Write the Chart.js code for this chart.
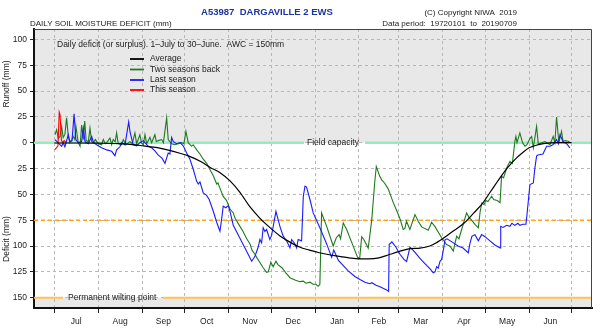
<!DOCTYPE html>
<html>
<head>
<meta charset="utf-8">
<script src="https://cdn.jsdelivr.net/npm/chart.js@4/dist/chart.umd.min.js"></script>
<style>
html,body{margin:0;padding:0;background:#fff;}
canvas{display:block;}
</style>
</head>
<body>
<canvas id="c" width="600" height="331"></canvas>
<script>
// ---------- DATA (day since 1 July, balance mm: + runoff / - deficit) ----------
const monthStarts = [0,31,62,92,123,153,184,215,243,274,304,335,365];
const monthLabels = ['Jul','Aug','Sep','Oct','Nov','Dec','Jan','Feb','Mar','Apr','May','Jun'];
const yTickValues = [-150,-125,-100,-75,-50,-25,0,25,50,75,100];
const seriesNames = ['Average','Two seasons back','Last season','This season'];

const average = [[0,-0.3],[15,-0.3],[31,-0.5],[46,-1],[62,-3],[75,-5.5],[88,-10],[95,-13],[103,-18],[110,-24],[117,-29],[124,-37],[131,-48],[138,-62],[145,-73],[152,-82],[159,-90],[166,-96],[173,-101],[180,-104],[187,-106.5],[194,-108.5],[201,-110],[208,-111.5],[215,-112.5],[222,-112.5],[229,-111.5],[236,-108.5],[243,-105.5],[251,-102.5],[258,-102],[265,-100],[270,-96.5],[274,-93],[281,-86],[289,-78],[296,-68],[302,-59],[308,-47],[314,-35],[320,-24],[326,-15],[331,-9],[335,-5],[340,-2.5],[345,-1],[355,0],[365,0]];

const twoSeasonsBack = [[0.5,7.7],[1.7,12.5],[2.8,4],[4,6],[5.2,15.8],[6.3,5],[7.5,8],[8.7,24],[9.9,6],[11,0],[12.2,2],[13.4,6],[14.5,3],[15.3,15.8],[16.9,0],[18.2,-3.5],[19.3,17],[20.5,3],[21.5,21],[22.5,2],[24,1],[25.2,14],[26.4,1],[27.5,0],[29,3],[30,1],[31,-1],[33.4,-2],[34.6,3],[36,-1],[37,0],[39.3,4.5],[40.5,-2],[41.6,3],[43,1],[44,9.4],[45.1,-1],[47.5,-2],[48.7,3],[50.6,-2],[53.4,1],[55,-1],[56.9,9.4],[58.1,-1],[60.4,7.7],[61.5,0],[62.8,-2],[64,7.7],[65.2,-1],[67.5,5],[68.7,0],[71,7.7],[72,1],[73.4,2],[75.8,3],[77,0],[79.3,24],[80.4,3],[82.8,-1],[85.1,-2],[87.5,-1],[89.9,0],[91.5,-1],[92.9,11],[94.5,0],[96.9,-3.5],[98,-2],[100.5,-7],[102.8,-11],[105.1,-16],[107.5,-20],[109.8,-26],[112.2,-32],[114.6,-40],[115.5,-39],[116.9,-44],[119.2,-52],[121.6,-56],[123.9,-64],[126.3,-68],[127.5,-73],[131,-81],[133.2,-86],[135.8,-93],[138.1,-98],[139.5,-104],[141.6,-108],[142.8,-111],[145.1,-116],[147.4,-121],[149.8,-125.5],[151,-125],[152.8,-115.5],[154.4,-120],[156.4,-114.7],[157.8,-118],[160.6,-121],[163.4,-126],[166.3,-130.7],[169.8,-133],[173.3,-134.5],[175.7,-134],[177.6,-136],[180.4,-135],[182.7,-137],[184.6,-137],[186.2,-139],[187.4,-137],[188.6,-68],[192.2,-81],[196.8,-100],[199,-92],[201,-89],[202,-93],[203.9,-77.6],[206.3,-84],[210,-97],[214,-111],[215.5,-112],[216.9,-91],[218.5,-94],[221.5,-102],[224,-75],[226,-40],[227.2,-23],[229.5,-32],[231,-36],[233,-39],[235.6,-44.7],[239.2,-58],[242.3,-68],[244,-74],[246.2,-84],[247.4,-83],[248.5,-76],[250.9,-84],[254.5,-69.6],[256.8,-76],[259.2,-81.5],[263.9,-84.7],[266.2,-77],[268.5,-81],[273.3,-92],[276.8,-98.6],[279.2,-100.2],[281.5,-105],[283.9,-90.5],[285.5,-93],[290.9,-68],[292.5,-72],[294.5,-75],[296.8,-79],[299.2,-82.4],[300.5,-66.4],[301.7,-58.3],[303.2,-60],[304.5,-56],[306,-57],[307.5,-54],[308.6,-51.9],[310,-55],[312.5,-56],[314.5,-58],[315.6,-32.6],[317,-34],[319.2,-24.5],[321.5,-18],[323.2,-20],[325,1.3],[325.7,6],[326.5,0],[327.3,4],[328.5,9.4],[330.4,0],[332.1,-3.5],[333.5,-2],[335.6,4],[336.8,6],[338,-5],[340.3,15.8],[341.5,-1],[343.9,0],[346.2,1],[349.7,-2],[352,6],[353.2,0],[354.4,24.8],[356,0],[357.9,11],[359,1],[360.3,2],[362.6,1.3],[363.8,0.3]];

const lastSeason = [[0.5,3],[2.6,0],[5.2,-3.5],[6.3,0],[7.5,-4],[9.9,7.7],[11,1],[12.5,2],[14,28],[15.2,3],[16.9,0],[19.3,1],[20.5,14],[21.7,1],[24,-1],[26.4,6],[27.5,1],[28.7,-1],[31,-3],[33.4,-5],[37,-7],[40.5,-8.4],[42.8,-12.6],[44,-7],[46.3,-4],[47.5,0],[49.9,-2],[52.5,20],[53.4,11],[54.6,4],[55.7,-2],[58.1,-3],[60.4,0],[62.8,2],[66.3,-3.5],[68.7,-5],[71,-8],[73.4,-12],[76,-15],[78.1,-20],[80.4,-10],[81.6,-11],[82.8,5],[84,1],[86.3,-1],[88.7,0],[91,-3],[93.4,-10],[95.7,-16],[98.1,-26],[100.5,-37.4],[101.6,-40],[102.8,-38],[105.1,-48.6],[107.5,-51],[109.3,-55],[112.2,-66.4],[114.6,-77],[116.9,-85.7],[118,-75],[119.2,-61.5],[121.1,-63],[122.7,-61],[123.9,-66],[126.3,-80],[131,-92.5],[135.7,-105],[139.3,-114.7],[141.6,-110],[143.9,-101],[145.1,-93.7],[146.3,-97],[147.4,-82.4],[148.6,-86],[149.8,-84],[152.1,-93.7],[153.3,-90],[156.4,-66.4],[159.2,-81],[161.5,-90.5],[163.9,-95],[166.3,-101.8],[167.5,-93.7],[169.8,-98],[171,-101.8],[172.1,-93.7],[174.5,-95],[175.7,-52],[176.9,-42],[178,-43],[180.4,-55],[182.7,-68],[187.4,-82.4],[192.2,-98],[195.7,-111],[197.2,-104],[200.5,-114],[207.4,-124],[212.1,-129.5],[215.7,-132.5],[219.2,-135],[222.7,-136.5],[224.1,-135.5],[227,-138],[229.8,-139.5],[234.5,-142.5],[235.9,-144],[236.3,-98.6],[238.2,-96],[241,-101],[243.9,-108],[246.7,-113],[248.6,-115],[251,-101],[254.4,-106],[258,-112],[261.5,-117],[265,-122],[267.4,-126],[268.6,-125],[269.8,-120],[270.9,-121.5],[272.1,-115],[273.3,-113],[274.5,-104],[275.7,-94],[277.1,-93],[280.6,-96],[284.9,-100],[288.4,-102],[292.1,-106.6],[293.2,-98],[294.7,-90.5],[296.8,-89],[299.2,-95],[301.5,-89],[303.9,-91],[307.4,-95],[310.9,-99],[314.5,-101.8],[315,-81],[316.6,-82],[319.2,-80],[321.5,-81],[322.9,-78],[325,-80],[327.1,-78],[328.5,-80],[330.6,-79],[332.8,-79],[333.5,-70],[335.6,-40.6],[338,-39],[339.1,-24.5],[340.3,-13],[341.3,-12],[344.8,-11],[346.2,-6.8],[347.4,-3.5],[349.7,-3.5],[351.8,-2],[354.4,3],[355.6,-1],[356.8,7.7],[358,4],[359,1],[361.5,-1],[363.8,-5]];

const thisSeason = [[0.3,-6.8],[1.5,-5],[2.6,-3],[3.5,29.5],[4.1,27],[5,3],[5.8,0],[7,2],[8.3,0]];

// ---------- STYLE ----------
const FONT = "'Liberation Sans', Arial, Helvetica, sans-serif";
const colors = ['#000000','#1f7a1f','#1a1aff','#ff0000'];
Chart.defaults.font.family = FONT;

const toXY = arr => arr.map(p => ({x: p[0], y: p[1]}));

const decor = {
  id: 'decor',
  beforeDraw(chart) {
    const {ctx, chartArea: a, scales: {y}} = chart;
    ctx.save();
    ctx.fillStyle = '#e8e8e8';
    const y0 = y.getPixelForValue(0);
    ctx.fillRect(a.left, a.top, a.width, y0 - a.top);
    const yw = y.getPixelForValue(-150);
    ctx.fillRect(a.left, yw, a.width, a.bottom - yw);
    ctx.restore();
  },
  beforeDatasetsDraw(chart) {
    const {ctx, chartArea: a, scales: {y}} = chart;
    ctx.save();
    ctx.font = '8.5px ' + FONT;
    ctx.textBaseline = 'middle';
    // field capacity
    const y0 = y.getPixelForValue(0);
    ctx.strokeStyle = '#96ebbe';
    ctx.lineWidth = 2.5;
    ctx.beginPath();
    ctx.moveTo(a.left, y0); ctx.lineTo(304, y0);
    ctx.moveTo(365, y0); ctx.lineTo(a.right, y0);
    ctx.stroke();
    ctx.fillStyle = '#222';
    ctx.textAlign = 'left';
    ctx.fillText('Field capacity', 307, y0);
    // 75 mm dashed
    const y75 = y.getPixelForValue(-75);
    ctx.strokeStyle = '#ffa31a';
    ctx.lineWidth = 1.5;
    ctx.setLineDash([4,3]);
    ctx.beginPath(); ctx.moveTo(a.left, y75); ctx.lineTo(a.right, y75); ctx.stroke();
    ctx.setLineDash([]);
    // wilting point
    const yw = y.getPixelForValue(-150);
    ctx.strokeStyle = '#ffc34d';
    ctx.lineWidth = 2;
    ctx.beginPath();
    ctx.moveTo(a.left, yw); ctx.lineTo(63, yw);
    ctx.moveTo(163, yw); ctx.lineTo(a.right, yw);
    ctx.stroke();
    ctx.fillStyle = '#222';
    ctx.fillText('Permanent wilting point', 68, yw);
    ctx.restore();
  },
  afterDraw(chart) {
    const {ctx, chartArea: a, scales: {x}} = chart;
    ctx.save();
    // top/right frame
    ctx.strokeStyle = '#444';
    ctx.lineWidth = 1;
    ctx.beginPath();
    ctx.moveTo(a.left, a.top + 0.5); ctx.lineTo(a.right - 0.5, a.top + 0.5); ctx.lineTo(a.right - 0.5, a.bottom);
    ctx.stroke();
    // headings
    ctx.textBaseline = 'middle';
    ctx.textAlign = 'center';
    ctx.fillStyle = '#1c34a0';
    ctx.font = 'bold 9.5px ' + FONT;
    ctx.fillText('A53987  DARGAVILLE 2 EWS', 267, 12.5);
    ctx.fillStyle = '#222';
    ctx.font = '8px ' + FONT;
    ctx.textAlign = 'left';
    ctx.fillText('DAILY SOIL MOISTURE DEFICIT (mm)', 30, 24);
    ctx.textAlign = 'right';
    ctx.fillText('(C) Copyright NIWA  2019', 517, 13);
    ctx.fillText('Data period:  19720101  to  20190709', 517, 24);
    // month labels
    ctx.textAlign = 'center';
    ctx.font = '8.5px ' + FONT;
    monthLabels.forEach((m, i) => {
      const px = x.getPixelForValue((monthStarts[i] + monthStarts[i+1]) / 2);
      ctx.fillText(m, px, 322);
    });
    // axis titles
    ctx.save();
    ctx.translate(7, 84); ctx.rotate(-Math.PI/2);
    ctx.fillText('Runoff (mm)', 0, 0);
    ctx.restore();
    ctx.save();
    ctx.translate(7, 239); ctx.rotate(-Math.PI/2);
    ctx.fillText('Deficit (mm)', 0, 0);
    ctx.restore();
    // legend
    ctx.textAlign = 'left';
    ctx.font = '8.5px ' + FONT;
    ctx.fillText('Daily deficit (or surplus). 1\u2013July to 30\u2013June.  AWC = 150mm', 57, 45);
    const rows = [59, 69.5, 80, 90];
    seriesNames.forEach((n, i) => {
      ctx.strokeStyle = colors[i];
      ctx.lineWidth = 1.8;
      ctx.beginPath(); ctx.moveTo(130, rows[i]); ctx.lineTo(144, rows[i]); ctx.stroke();
      ctx.fillStyle = '#222';
      ctx.fillText(n, 150, rows[i]);
    });
    ctx.restore();
  }
};

const seriesData = [average, twoSeasonsBack, lastSeason, thisSeason];
const orders = [0, 3, 2, 1];

new Chart(document.getElementById('c'), {
  type: 'line',
  data: {
    datasets: seriesData.map((s, i) => ({
      label: seriesNames[i],
      data: toXY(s),
      borderColor: colors[i],
      borderWidth: i === 0 ? 1.2 : 1.1,
      pointRadius: 0,
      tension: i === 0 ? 0.4 : 0,
      cubicInterpolationMode: i === 0 ? 'monotone' : 'default',
      fill: false,
      order: orders[i]
    }))
  },
  options: {
    responsive: false,
    animation: false,
    devicePixelRatio: 1,
    layout: {padding: {top: 29, right: 8, left: 0, bottom: 0}},
    plugins: {legend: {display: false}, title: {display: false}, tooltip: {enabled: false}},
    scales: {
      x: {
        type: 'linear', min: -14.3, max: 379.4,
        afterBuildTicks: s => { s.ticks = monthStarts.map(v => ({value: v})); },
        ticks: {display: false},
        grid: {color: '#b8b8b8', lineWidth: 1, tickLength: 5, tickColor: '#222', tickWidth: 1},
        border: {display: true, color: '#111', width: 2, dash: [3, 3]},
        afterFit: s => { s.height = 23; }
      },
      y: {
        type: 'linear', min: -160, max: 110,
        afterBuildTicks: s => { s.ticks = yTickValues.map(v => ({value: v})); },
        ticks: {callback: v => String(Math.abs(v)), color: '#222', font: {size: 8.5, family: FONT}, padding: 3},
        grid: {color: '#b8b8b8', lineWidth: 1, tickLength: 4, tickColor: '#222', tickWidth: 1},
        border: {display: true, color: '#111', width: 2, dash: [3, 3]},
        afterFit: s => { s.width = 34; }
      }
    }
  },
  plugins: [decor]
});
</script>
</body>
</html>
